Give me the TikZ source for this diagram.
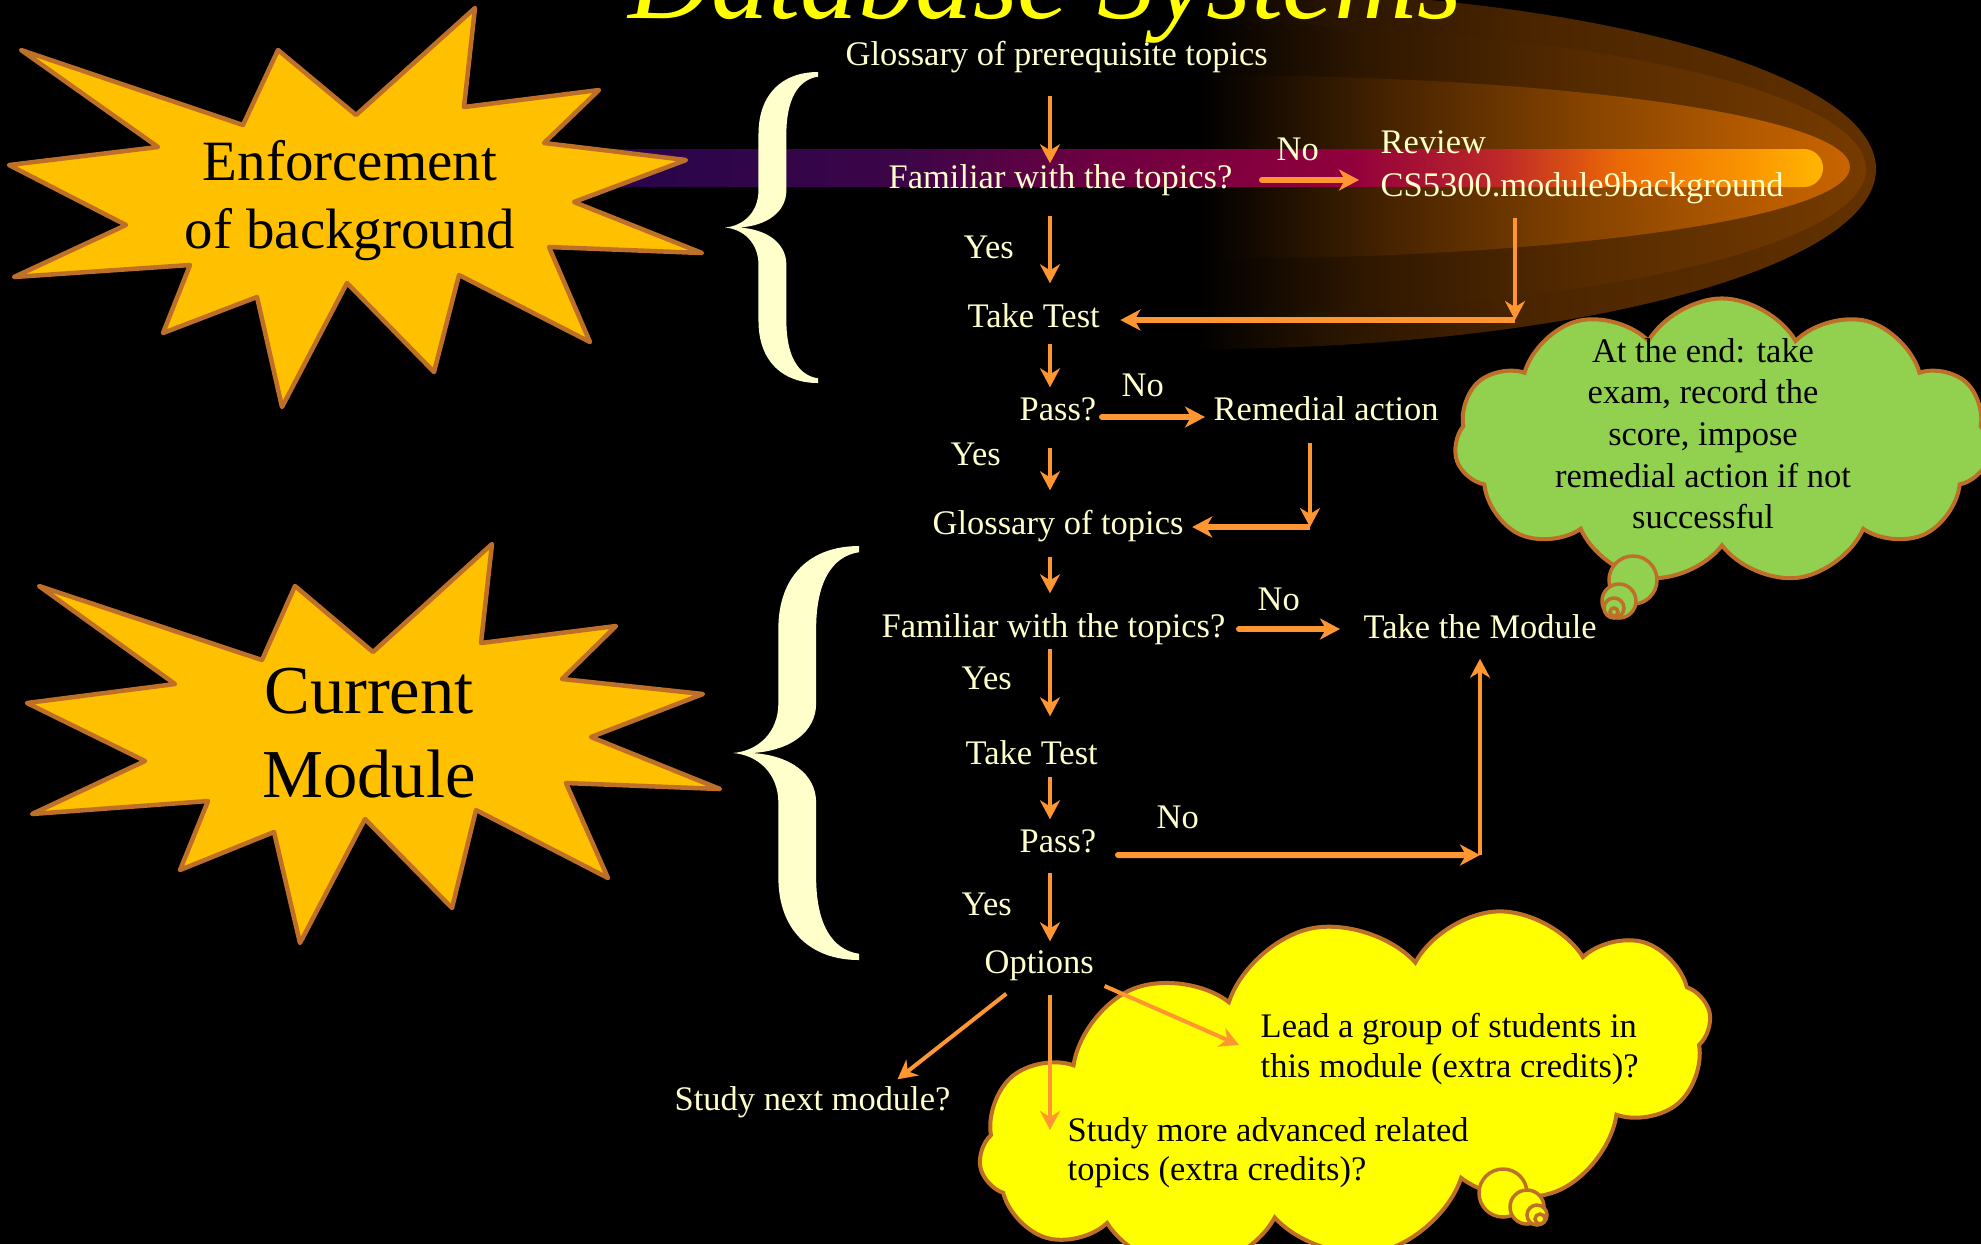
\documentclass[tikz,border=0pt]{standalone}
\usepackage{fontspec}
\setmainfont{Liberation Serif}
\usetikzlibrary{arrows.meta,shapes.symbols}

\newdimen\px \px=0.01cm

\definecolor{creamtxt}{RGB}{255,255,204}
\definecolor{flowarrow}{RGB}{255,150,50}
\definecolor{starfill}{RGB}{255,192,0}
\definecolor{starline}{RGB}{190,112,40}
\definecolor{cloudgreen}{RGB}{146,208,80}
\definecolor{cloudyellow}{RGB}{255,255,0}
\definecolor{titleyellow}{RGB}{255,255,0}

% colours of the glowing bar
\definecolor{barA}{RGB}{38,5,75}
\definecolor{barB}{RGB}{60,5,72}
\definecolor{barC}{RGB}{110,0,65}
\definecolor{barD}{RGB}{145,0,60}
\definecolor{barE}{RGB}{190,40,40}
\definecolor{barF}{RGB}{235,105,5}
\definecolor{barG}{RGB}{250,150,0}
\definecolor{barH}{RGB}{255,182,0}
% colours of the glow around it
\definecolor{glowAa}{RGB}{40,20,0}
\definecolor{glowAb}{RGB}{75,37,0}
\definecolor{glowAc}{RGB}{98,49,0}
\definecolor{glowBa}{RGB}{48,24,0}
\definecolor{glowBb}{RGB}{88,44,0}
\definecolor{glowBc}{RGB}{118,59,0}
\definecolor{glowCa}{RGB}{72,36,0}
\definecolor{glowCb}{RGB}{135,68,0}
\definecolor{glowCc}{RGB}{182,91,0}
\definecolor{glowCd}{RGB}{200,100,0}

\pgfdeclarehorizontalshading{barglow}{100bp}{color(0bp)=(barA); color(25bp)=(barA);
  color(37.3bp)=(barB); color(45.4bp)=(barC); color(55.7bp)=(barD); color(61.8bp)=(barE);
  color(66.7bp)=(barF); color(72bp)=(barG); color(75bp)=(barH); color(100bp)=(barH)}
\pgfdeclarehorizontalshading{glowouter}{100bp}{color(0bp)=(black); color(25bp)=(black);
  color(35bp)=(glowAa); color(50bp)=(glowAb); color(75bp)=(glowAc); color(100bp)=(glowAc)}
\pgfdeclarehorizontalshading{glowmiddle}{100bp}{color(0bp)=(black); color(25bp)=(black);
  color(38bp)=(glowBa); color(55bp)=(glowBb); color(75bp)=(glowBc); color(100bp)=(glowBc)}
\pgfdeclarehorizontalshading{glowinner}{100bp}{color(0bp)=(black); color(25bp)=(black);
  color(40bp)=(glowCa); color(55bp)=(glowCb); color(68bp)=(glowCc); color(75bp)=(glowCd);
  color(100bp)=(glowCd)}

\begin{document}
\begin{tikzpicture}[x=0.01cm, y=-0.01cm,
  flow/.style={text=creamtxt, font=\fontsize{9.8pt}{11.8pt}\selectfont, inner sep=0,
    text height=0.24cm, text depth=0.08cm, anchor=base west},
  blacktxt/.style={flow, text=black},
  cloudline/.style={text=black, font=\fontsize{9.8pt}{11.8pt}\selectfont, inner sep=0, anchor=base},
  arr/.style={draw=flowarrow, line width=0.04cm,
    -{Stealth[length=0.19cm, width=0.2cm, inset=0.06cm]}},
  arrthick/.style={draw=flowarrow, line width=0.06cm, line cap=round,
    -{Stealth[length=0.2cm, width=0.21cm, inset=0.06cm]}},
  starshape/.style={fill=starfill, draw=starline, line width=0.045cm, line join=round},
  cloudbase/.style={cloud, cloud ignores aspect, draw=starline, line width=0.04cm, inner sep=0},
  bubble/.style={draw=starline, line width=0.035cm},
  curlybrace/.pic={
    \fill[creamtxt] (1,0) .. controls (0.62,0) and (0.36,0.07) .. (0.36,0.2)
      -- (0.36,0.38) .. controls (0.36,0.45) and (0.2,0.495) .. (0,0.5)
      .. controls (0.2,0.505) and (0.36,0.55) .. (0.36,0.62)
      -- (0.36,0.8) .. controls (0.36,0.93) and (0.62,1) .. (1,1)
      -- (1,0.985) .. controls (0.78,0.975) and (0.66,0.91) .. (0.66,0.8)
      -- (0.66,0.62) .. controls (0.66,0.55) and (0.45,0.505) .. (0.15,0.5)
      .. controls (0.45,0.495) and (0.66,0.45) .. (0.66,0.38)
      -- (0.66,0.2) .. controls (0.66,0.09) and (0.78,0.025) .. (1,0.015) -- cycle;
  }]

\useasboundingbox (0,0) rectangle (1981,1244);
\fill[black] (0,0) rectangle (1981,1244);
\clip (0,0) rectangle (1981,1244);

% glow behind the review step
\shade[shading=glowouter] (1195,349) arc[start angle=90, end angle=-90, x radius=681, y radius=180] -- cycle;
\shade[shading=glowmiddle] (1198,314) arc[start angle=90, end angle=-90, x radius=668, y radius=145] -- cycle;
\shade[shading=glowinner] (1200,259) arc[start angle=90, end angle=-90, x radius=650, y radius=92] -- cycle;
% glowing bar
\shade[shading=barglow, rounded corners=0.19cm] (600,149) rectangle (1823,187);

% starbursts
\draw[starshape] (21,50) -- (158,147) -- (9,165) -- (126,225) -- (14,277) -- (190,265)
  -- (163,333) -- (257,297) -- (282,407) -- (347,283) -- (434,372) -- (459,275)
  -- (590,342) -- (549,247) -- (702,253) -- (574,202) -- (686,160) -- (544,143)
  -- (599,90) -- (464,107) -- (475,8) -- (356,115) -- (278,50) -- (243,125) -- cycle;
\draw[starshape] (39,586) -- (175,684) -- (27,703) -- (145,761) -- (32,814) -- (208,801)
  -- (180,870) -- (274,832) -- (300,943) -- (365,819) -- (452,908) -- (476,810)
  -- (608,878) -- (566,783) -- (720,789) -- (591,737) -- (703,694) -- (562,679)
  -- (616,626) -- (481,643) -- (492,544) -- (373,652) -- (295,586) -- (262,660) -- cycle;
\node[anchor=base, inner sep=0, font=\fontsize{16.2pt}{19.6pt}\selectfont] (enf1) at (350,180) {Enforcement};
\node[anchor=base, inner sep=0, font=\fontsize{16.2pt}{19.6pt}\selectfont] (enf2) at (350,248) {of background};
\node[anchor=base, inner sep=0, font=\fontsize{19.5pt}{23pt}\selectfont] (cur1) at (369,713) {Current};
\node[anchor=base, inner sep=0, font=\fontsize{19.5pt}{23pt}\selectfont] (cur2) at (369,797) {Module};

% braces
\path (725,72) pic[xscale=93, yscale=311] {curlybrace};
\path (733,546) pic[xscale=126, yscale=414] {curlybrace};

% title
\node[anchor=base, inner sep=0, text=titleyellow, font=\fontsize{32.7pt}{36pt}\selectfont\itshape] (title) at (1045,18) {Database Systems};

% thought clouds
\node[cloudbase, fill=cloudgreen, cloud puffs=11, cloud puff arc=120,
  minimum width=5.35cm, minimum height=2.85cm] (greencloud) at (1722,441) {};
\fill[cloudgreen, bubble] (1633,580) circle[radius=24];
\fill[cloudgreen, bubble] (1619,601) circle[radius=17];
\fill[cloudgreen, bubble] (1614,608) circle[radius=10];
\fill[cloudgreen, bubble] (1614,612) circle[radius=4];

\node[cloudbase, fill=cloudyellow, cloud puffs=12, cloud puff arc=120, rotate=12,
  minimum width=7.45cm, minimum height=3.3cm] (yellowcloud) at (1345,1090) {};
\fill[cloudyellow, bubble] (1503,1193) circle[radius=24];
\fill[cloudyellow, bubble] (1527,1207) circle[radius=17];
\fill[cloudyellow, bubble] (1537,1215) circle[radius=10];
\fill[cloudyellow, bubble] (1540,1219) circle[radius=5];

% flow steps
\coordinate (spine) at (1050,0);
\node[flow] (gpre) at (845,65) {Glossary of prerequisite topics};
\node[flow] (famA) at (888,188) {Familiar with the topics?};
\node[flow] (noA) at (1276,160) {No};
\node[flow] (revA) at (1380,153) {Review};
\node[flow] (revB) at (1380,196) {CS5300.module9background};
\node[flow] (yesA) at (963,258) {Yes};
\node[flow] (testA) at (967,327) {Take Test};
\node[flow] (passA) at (1019,420) {Pass?};
\node[flow] (noB) at (1121,396) {No};
\node[flow] (remedy) at (1213,420) {Remedial action};
\node[flow] (yesB) at (950,465) {Yes};
\node[flow] (gloss) at (932,534) {Glossary of topics};
\node[flow] (famB) at (881,637) {Familiar with the topics?};
\node[flow] (noC) at (1257,610) {No};
\node[flow] (module) at (1363,638) {Take the Module};
\node[flow] (yesC) at (961,689) {Yes};
\node[flow] (testB) at (965,764) {Take Test};
\node[flow] (passB) at (1019,852) {Pass?};
\node[flow] (noD) at (1156,828) {No};
\node[flow] (yesD) at (961,915) {Yes};
\node[flow] (options) at (984,973) {Options};
\node[flow] (nextmod) at (674,1110) {Study next module?};
\node[blacktxt] (lead1) at (1260,1037) {Lead a group of students in};
\node[blacktxt] (lead2) at (1260,1077) {this module (extra credits)?};
\node[blacktxt] (adv1) at (1067,1141) {Study more advanced related};
\node[blacktxt] (adv2) at (1067,1180) {topics (extra credits)?};

\node[cloudline] (end1) at (1703,362) {At the end: take};
\node[cloudline] (end2) at (1703,403) {exam, record the};
\node[cloudline] (end3) at (1703,445) {score, impose};
\node[cloudline] (end4) at (1703,487) {remedial action if not};
\node[cloudline] (end5) at (1703,528) {successful};

% bends of the elbow connectors
\coordinate (rvbend) at (1515,320);
\coordinate (rmbend) at (1310,527);
\coordinate (pmbend) at (1480,855);

% connectors
\draw[arr, shorten <=22\px] (gpre.south -| spine) -- (famA.north -| spine);
\draw[arr, shorten <=19\px, shorten >=19\px] (famA.south -| spine) -- (testA.north -| spine);
\draw[arr, shorten <=8\px, shorten >=8\px] (testA.south -| spine) -- (passA.north -| spine);
\draw[arr, shorten <=19\px, shorten >=19\px] (passA.south -| spine) -- (gloss.north -| spine);
\draw[arr, shorten <=14\px, shorten >=19\px] (gloss.south -| spine) -- (famB.north -| spine);
\draw[arr, shorten <=3\px, shorten >=23\px] (famB.south -| spine) -- (testB.north -| spine);
\draw[arr, shorten <=4\px, shorten >=8\px] (testB.south -| spine) -- (passB.north -| spine);
\draw[arr, shorten <=12\px, shorten >=7\px] (passB.south -| spine) -- (options.north -| spine);

\draw[arrthick, shorten <=29\px, shorten >=21\px] (famA.east) -- (famA.east -| revB.west);
\draw[arr, shorten <=13\px] (revB.south -| rvbend) -- (rvbend);
\draw[arrthick, line cap=butt, shorten >=20\px] (rvbend) -- (rvbend -| testA.east);

\draw[arrthick, shorten <=5\px, shorten >=8\px] ([yshift=-5\px]passA.east) -- ([yshift=-5\px]passA.east -| remedy.west);
\draw[arr, shorten <=14\px] (remedy.south -| rmbend) -- (rmbend);
\draw[arrthick, line cap=butt, shorten >=8\px] (rmbend) -- (rmbend -| gloss.east);

\draw[arrthick, shorten <=13\px, shorten >=23\px] (famB.east) -- (famB.east -| module.west);
\draw[arrthick, shorten <=21\px] ([yshift=-11\px]passB.east) -- (pmbend);
\draw[arr, shorten >=12\px] (pmbend) -- (pmbend |- module.south);

\draw[arr] ([xshift=-33\px, yshift=-12\px]options.south) -- ([xshift=85\px, yshift=6\px]nextmod.north);
\draw[arr, shorten <=13\px, shorten >=3\px] (options.south -| spine) -- (adv1.west -| spine);
\draw[arr] ([xshift=10\px, yshift=-21\px]options.east) -- ([xshift=-21\px, yshift=-16\px]lead1.west);

\end{tikzpicture}
\end{document}
